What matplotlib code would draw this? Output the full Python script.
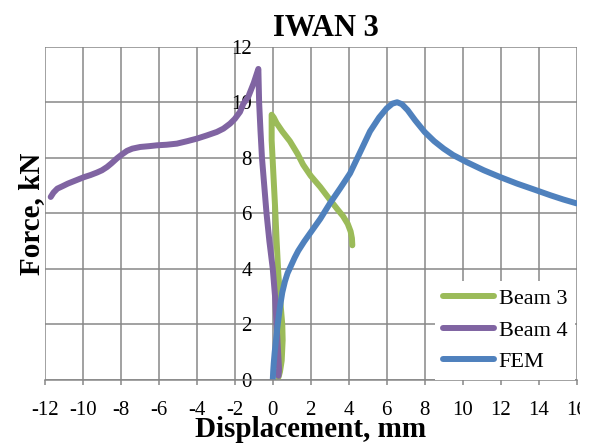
import matplotlib
matplotlib.use("Agg")
import matplotlib.pyplot as plt
from matplotlib.patches import Rectangle

# Force-displacement curves (displacement in mm, force in kN)
beam3_x = [0.30, 0.38, 0.47, 0.52, 0.50, 0.42, 0.29, 0.20, 0.12, 0.03, -0.06, -0.06,
           0.05, 0.20, 0.50, 0.90, 1.30, 1.60, 2.00, 2.50, 3.00, 3.40, 3.70, 3.95,
           4.10, 4.17, 4.19]
beam3_y = [0.10, 0.30, 0.70, 1.44, 2.00, 2.64, 3.84, 5.04, 6.24, 7.43, 8.63, 9.55,
           9.45, 9.25, 8.95, 8.60, 8.15, 7.75, 7.35, 6.95, 6.50, 6.15, 5.90, 5.62,
           5.35, 5.10, 4.85]

beam4_x = [0.30, 0.33, 0.28, 0.20, 0.12, 0.00, -0.18, -0.33, -0.45, -0.57, -0.65, -0.72,
           -0.76, -1.00, -1.29, -1.55, -1.73, -2.00, -2.25, -2.60, -2.95, -3.50, -4.00,
           -4.50, -5.05, -5.60, -6.10, -6.50, -6.98, -7.40, -7.68, -7.95, -8.21, -8.50,
           -8.73, -9.00, -9.26, -9.60, -9.96, -10.40, -10.80, -11.10, -11.35, -11.55,
           -11.70]
beam4_y = [0.15, 0.40, 1.00, 2.00, 3.00, 4.00, 5.00, 6.00, 7.00, 8.00, 9.00, 10.00,
           11.20, 10.70, 10.20, 9.95, 9.65, 9.40, 9.23, 9.05, 8.93, 8.80, 8.69,
           8.60, 8.51, 8.47, 8.45, 8.42, 8.39, 8.33, 8.25, 8.12, 7.98, 7.80,
           7.67, 7.55, 7.47, 7.38, 7.30, 7.18, 7.07, 6.97, 6.89, 6.75,
           6.59]

fem_x = [0.00, 0.02, 0.05, 0.10, 0.17, 0.26, 0.38, 0.50, 0.64, 0.78, 0.95, 1.15, 1.34,
         1.65, 1.96, 2.50, 3.01, 3.55, 4.07, 4.60, 5.12, 5.60, 6.00, 6.30, 6.55, 6.80,
         7.10, 7.50, 8.00, 8.50, 9.00, 9.50, 10.20, 11.12, 12.00, 12.87, 13.80, 14.63,
         15.30, 16.00]
fem_y = [0.00, 0.30, 0.60, 1.00, 1.44, 2.00, 2.64, 3.15, 3.55, 3.85, 4.10, 4.40, 4.65,
         4.98, 5.28, 5.80, 6.36, 6.90, 7.44, 8.20, 8.95, 9.45, 9.78, 9.95, 10.00, 9.93,
         9.72, 9.35, 8.93, 8.60, 8.33, 8.10, 7.85, 7.55, 7.30, 7.07, 6.85, 6.65,
         6.50, 6.36]

x_ticks = [-12, -10, -8, -6, -4, -2, 0, 2, 4, 6, 8, 10, 12, 14, 16]
y_ticks = [0, 2, 4, 6, 8, 10, 12]

series_names = ["Beam 3", "Beam 4", "FEM"]
series_colors = ["#9BBB59", "#8064A2", "#4F81BD"]

plt.rcParams["font.family"] = ["Liberation Serif", "DejaVu Serif"]
plt.rcParams["axes.unicode_minus"] = False

fig = plt.figure(figsize=(5.95, 4.45), dpi=100)
W, H = 595.0, 445.0
ax = fig.add_axes([45 / W, 1 - 380 / H, 531.5 / W, 333.3 / H])

grid_color = "#878787"
for xs, ys, name, col in zip([beam3_x, beam4_x, fem_x], [beam3_y, beam4_y, fem_y],
                             series_names, series_colors):
    ax.plot(xs, ys, color=col, lw=4.3, label=name,
            solid_capstyle="round", solid_joinstyle="round")

ax.set_xlim(x_ticks[0], x_ticks[-1])
ax.set_ylim(y_ticks[0], y_ticks[-1])
ax.set_xticks(x_ticks)
ax.set_yticks(y_ticks)
ax.set_axisbelow(True)
ax.grid(True, color=grid_color, lw=1.1)

# vertical axis sits at x = 0
ax.spines["left"].set_position(("data", 0))
ax.spines["left"].set_visible(False)
ax.spines["right"].set_visible(False)
ax.spines["top"].set_visible(False)
ax.spines["bottom"].set_color(grid_color)
ax.spines["bottom"].set_linewidth(1.1)

ax.tick_params(axis="x", direction="out", length=3.6, width=1.1, color=grid_color,
               labelsize=15, pad=11.5)
ax.tick_params(axis="y", length=0, labelsize=15, pad=15)

ax.set_xlabel("Displacement, mm", fontsize=21, fontweight="bold")
ax.xaxis.set_label_coords(0.5, -0.108)
ax.set_ylabel("Force, kN", fontsize=21, fontweight="bold")
ax.yaxis.set_label_coords(0.0, 0.5)

fig.text(326 / W, 1 - 28 / H, "IWAN 3", ha="center", va="center",
         fontsize=22, fontweight="bold")

leg = ax.legend(loc="lower right", bbox_to_anchor=(0.997, 0.0), fontsize=16,
                frameon=True, fancybox=False, framealpha=1, edgecolor="none",
                facecolor="white", handlelength=2.3, handletextpad=0.2,
                labelspacing=0.5, borderpad=0.35, borderaxespad=0.0)

# right margin strip of the canvas
fig.patches.append(Rectangle((580 / W, 0), 1 - 580 / W, 1, transform=fig.transFigure,
                             facecolor="white", edgecolor="none", zorder=10))

fig.savefig("out.png", dpi=100)
